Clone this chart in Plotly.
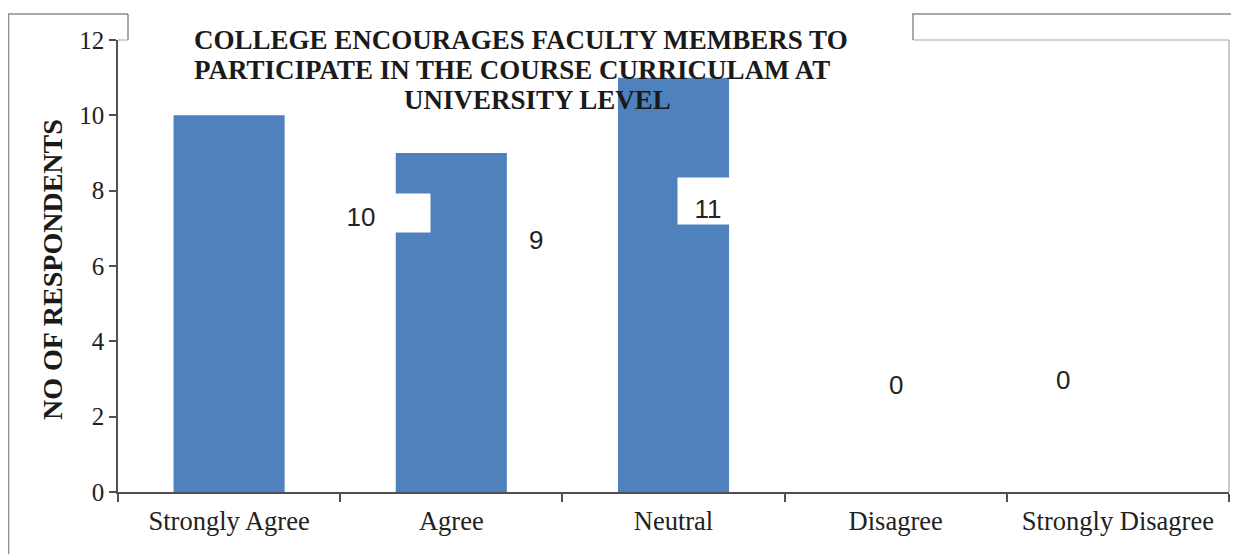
import plotly.graph_objects as go

# ---- data ----
categories = ["Strongly Agree", "Agree", "Neutral", "Disagree", "Strongly Disagree"]
respondents = [10, 9, 11, 0, 0]
y_ticks = [0, 2, 4, 6, 8, 10, 12]
title_lines = ["COLLEGE ENCOURAGES FACULTY MEMBERS TO",
               "PARTICIPATE IN THE COURSE CURRICULAM AT",
               "UNIVERSITY LEVEL"]
y_title = "NO OF RESPONDENTS"

# ---- label placement (style only) ----
label_dx = [132, 85, 34, 0, -55]          # pixel shift from category centre
label_y = [7.41, 6.69, 7.73, 2.84, 2.97]  # vertical placement in axis units
label_box = [(138, 38), None, (60, 46), None, None]

OFF = 8  # page body margin
W, H = 1239 - OFF, 554 - OFF
# plot area in page pixels
L, R, T, B = 118, 1229, 40, 492


def px_x(p):
    return (p - L) / (R - L)


def px_y(p):
    return (B - p) / (B - T)


BAR = "#4F81BD"
FRAME = "#8c8c8c"
AXIS = "#505050"

fig = go.Figure()
fig.add_trace(go.Bar(x=categories, y=respondents, marker=dict(color=BAR, line=dict(width=0)),
                     width=0.5, hoverinfo="skip"))

shapes = [
    # outer chart frame
    dict(type="rect", xref="paper", yref="paper", x0=px_x(8.5), x1=px_x(1260), y0=px_y(580), y1=px_y(14),
         line=dict(color=FRAME, width=1.5), layer="above"),
    # plot area top and right border
    dict(type="line", xref="paper", yref="paper", x0=0, x1=1, y0=1, y1=1,
         line=dict(color="#a8a8a8", width=1.2), layer="above"),
    dict(type="line", xref="paper", yref="paper", x0=1, x1=1, y0=0, y1=1,
         line=dict(color="#a8a8a8", width=1.2), layer="above"),
    # title box (white) hiding frame
    dict(type="rect", xref="paper", yref="paper", x0=px_x(128), x1=px_x(913), y0=px_y(41.5), y1=px_y(11),
         fillcolor="white", line=dict(width=0), layer="above"),
    dict(type="line", xref="paper", yref="paper", x0=px_x(128), x1=px_x(128), y0=px_y(40), y1=px_y(14),
         line=dict(color=FRAME, width=1.5), layer="above"),
    dict(type="line", xref="paper", yref="paper", x0=px_x(913), x1=px_x(913), y0=px_y(40), y1=px_y(13),
         line=dict(color=FRAME, width=1.5), layer="above"),
]

annotations = []
title_centers = [(521, 40), (512, 70), (537, 100)]
for txt, (cx, cy) in zip(title_lines, title_centers):
    annotations.append(dict(text=txt, xref="paper", yref="paper", x=px_x(cx), y=px_y(cy),
                            xanchor="center", yanchor="middle", showarrow=False,
                            font=dict(family="Liberation Serif", size=27, color="#1a1a1a", weight="bold")))

annotations.append(dict(text=y_title, xref="paper", yref="paper", x=px_x(52), y=px_y(270),
                        textangle=-90, xanchor="center", yanchor="middle", showarrow=False,
                        font=dict(family="Liberation Serif", size=28, color="#1a1a1a", weight="bold")))

for i, (cat, v) in enumerate(zip(categories, respondents)):
    a = dict(text=str(v), x=cat, y=label_y[i], xref="x", yref="y", xshift=label_dx[i],
             xanchor="center", yanchor="middle", showarrow=False, bgcolor="white", borderpad=0,
             font=dict(family="Liberation Sans", size=26, color="#222222"))
    if label_box[i]:
        a.update(width=label_box[i][0], height=label_box[i][1], valign="bottom", align="center")
    annotations.append(a)

fig.update_layout(
    width=W, height=H,
    margin=dict(l=L - OFF, r=1239 - R, t=T - OFF, b=554 - B, pad=0),
    paper_bgcolor="white", plot_bgcolor="white",
    showlegend=False, bargap=0.5,
    shapes=shapes, annotations=annotations,
    xaxis=dict(type="category", range=[-0.5, 4.5], showgrid=False, zeroline=False,
               showline=True, linecolor=AXIS, linewidth=1.5,
               ticks="outside", tickson="boundaries", ticklen=8, tickcolor=AXIS, tickwidth=1.5,
               ticklabelstandoff=4,
               tickfont=dict(family="Liberation Serif", size=26.5, color="#222222")),
    yaxis=dict(range=[0, 12], tickvals=y_ticks, showgrid=False, zeroline=False,
               showline=True, linecolor=AXIS, linewidth=1.5,
               ticks="outside", ticklen=7, tickcolor=AXIS, tickwidth=1.5,
               tickfont=dict(family="Liberation Serif", size=25, color="#222222")),
)

fig.write_html("out.html")
